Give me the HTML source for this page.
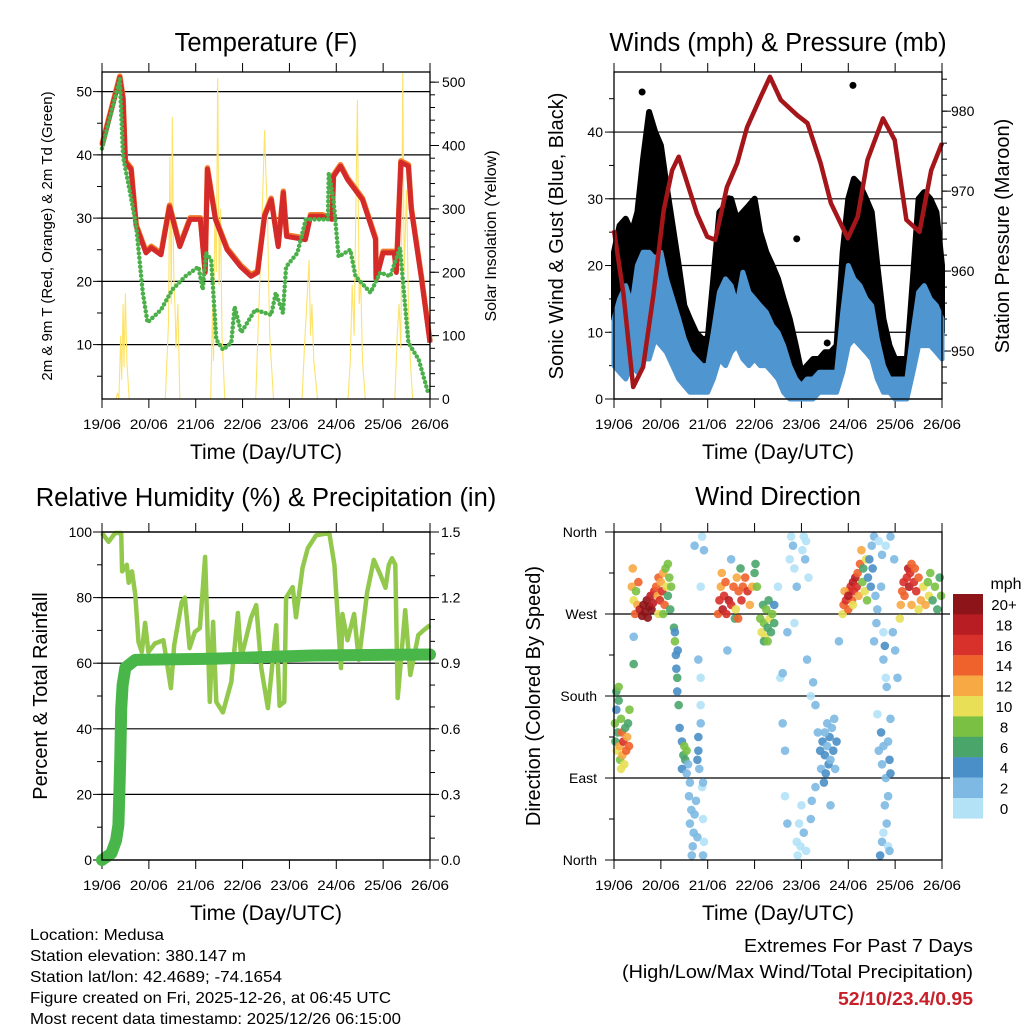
<!DOCTYPE html>
<html><head><meta charset="utf-8"><style>
body{margin:0;background:#fff}
svg{display:block;font-family:"Liberation Sans",sans-serif}
</style></head><body>
<svg id="chart" width="1024" height="1024" viewBox="0 0 1024 1024" xmlns="http://www.w3.org/2000/svg">
<rect width="1024" height="1024" fill="#fff"/>
</svg>
<script>
const dayLabels=["19/06","20/06","21/06","22/06","23/06","24/06","25/06","26/06"];
// Temperature (F)
const tempT=[0,0.38,0.45,0.5,0.62,0.73,0.94,1.05,1.26,1.44,1.66,1.88,2.1,2.2,2.25,2.42,2.67,2.96,3.18,3.32,3.47,3.61,3.76,3.87,3.94,4.34,4.45,4.7,4.91,4.94,5.09,5.24,5.56,5.84,5.85,6.0,6.24,6.28,6.38,6.54,6.6,6.82,7.0];
const tempV=[41.4,52.2,48.8,38.8,37.7,28.7,24.5,25.3,24.2,31.8,25.5,29.8,29.8,21.4,37.7,29.8,25,22.3,20.8,21.4,30.3,32.9,25.5,34,27.1,26.6,30.3,30.3,29.8,36.6,38.2,36.1,32.9,26.6,20.3,24.5,24.5,21.4,38.8,38.2,31.4,20.3,10.3];
const dewT=[0,0.38,0.45,0.6,0.73,0.87,0.97,1.26,1.5,1.78,2.06,2.15,2.22,2.33,2.44,2.58,2.76,2.83,2.97,3.27,3.61,3.71,3.86,3.93,4.17,4.35,4.82,4.84,4.94,5.05,5.3,5.41,5.73,5.94,6.15,6.36,6.54,6.76,6.96];
const dewV=[41,52,39.7,34,28.7,18.2,13.5,15.5,18.7,20.8,22.3,18.7,24.5,23.4,10.8,9.2,10.3,16,11.9,15.5,14.7,18.2,15,22.3,24.5,29.8,29.8,37.2,32.9,23.9,25,20.8,18.2,21.4,20.8,25.3,10.3,7.6,2.4];
const solarT=[0,0.3,0.33,0.36,0.4,0.42,0.45,0.47,0.5,0.53,0.58,1.35,1.42,1.45,1.48,1.5,1.53,1.56,1.58,1.62,1.66,2.32,2.36,2.38,2.41,2.44,2.47,2.5,2.53,2.56,2.62,3.28,3.35,3.42,3.47,3.5,3.53,3.58,3.66,4.27,4.32,4.37,4.42,4.45,4.48,4.52,4.6,5.25,5.3,5.34,5.38,5.45,5.49,5.52,5.56,5.62,6.25,6.3,6.34,6.38,6.42,6.45,6.5,6.54,6.58,6.63,7];
const solarV=[0,0,10,0,100,30,150,50,167,60,0,0,120,382,150,445,200,140,80,150,0,0,150,60,300,200,506,180,300,100,0,0,150,300,424,350,300,100,0,0,80,150,219,100,150,60,0,0,60,180,100,472,150,190,60,0,0,100,150,80,514,200,330,150,60,0,0];
// Winds (mph) & pressure (mb)
const windT=[0,0.12,0.25,0.38,0.5,0.62,0.75,0.88,1,1.12,1.25,1.38,1.5,1.62,1.75,1.88,2,2.12,2.25,2.38,2.5,2.62,2.75,2.88,3,3.12,3.25,3.38,3.5,3.62,3.75,3.88,4,4.12,4.25,4.38,4.5,4.62,4.75,4.88,5,5.12,5.25,5.38,5.5,5.62,5.75,5.88,6,6.12,6.25,6.38,6.5,6.62,6.75,6.88,7];
const sonicLow=[5,4,3,5,4,6,6,9,8,7,5,3,2,1,1,1,1,3,6,5,7,8,6,5,6,5,5,4,3,1,0,0,0,0,0,1,1,1,1,4,8,9,8,7,6,3,1,1,0,0,0,4,8,8,8,7,6];
const sonicHigh=[12,15,17,14,20,22,22,21,22,18,15,12,9,7,6,5,5,10,16,18,17,14,19,16,15,14,13,11,10,8,5,3,2,3,3,4,4,4,4,13,20,18,17,15,14,9,5,3,3,3,3,10,16,17,15,14,12];
const gustLow=[12,11,10,11,12,16,20,19,18,15,12,8,4,3,2,2,3,7,12,13,14,13,12,12,12,11,10,8,6,4,2,1,1,1,2,2,2,3,3,8,14,15,15,14,12,7,3,2,1,1,2,8,14,14,14,12,10];
const gustHigh=[22,26,27,25,28,36,43,40,38,32,26,20,14,12,10,9,9,18,28,29,30,27,28,29,30,25,22,20,18,15,12,8,4,5,6,6,7,7,8,22,30,33,32,30,28,20,12,8,6,6,6,18,30,31,30,28,20];
const gustOutT=[0.6,0.95,3.35,3.9,4.55,5.1,0.75,2.45];
const gustOutV=[46,37,16,24,8.4,47,41,30];
const presT=[0,0.2,0.41,0.62,0.84,1.06,1.24,1.38,1.52,1.77,1.99,2.16,2.41,2.63,2.84,3.13,3.33,3.56,3.91,4.13,4.41,4.63,4.99,5.2,5.41,5.74,5.99,6.24,6.52,6.77,7];
const presV=[965.1,957.2,945.5,948,957,967.6,972.6,974.3,971.8,967.2,964.3,963.9,970.5,973.5,978,981.8,984.3,981.4,979.5,978.5,973.5,968.5,964.1,966.8,973.9,979.1,976.4,966.4,964.9,972.6,976];
// Relative humidity & precipitation
const rhT=[0,0.14,0.28,0.41,0.43,0.53,0.57,0.64,0.71,0.78,0.85,0.92,0.99,1.13,1.31,1.47,1.54,1.7,1.77,1.87,1.98,2.09,2.2,2.3,2.37,2.44,2.58,2.76,2.9,2.97,3.18,3.29,3.4,3.54,3.72,3.79,3.89,3.93,4.07,4.14,4.28,4.39,4.57,4.85,4.96,5.1,5.13,5.24,5.38,5.48,5.66,5.8,5.94,6.05,6.12,6.19,6.26,6.31,6.47,6.58,6.75,6.86,7];
const rhV=[99.7,97,99.7,99.7,88,90,84.5,88,80.8,66.5,63.4,72.3,63.4,66,67,52.4,65.5,78.6,80,64.6,69.5,70.7,92.4,48.2,72.6,48.2,45,54.3,75.3,61.6,73.8,77.7,58.5,46.3,71.6,47,48.2,80,83.2,74,89,95,99,99.7,90,58.5,75,67,75,61,81.7,91.5,87,83,90,92,90,49.4,76.2,56.4,68.6,70,71.6];
const rainT=[0,0.2,0.3,0.35,0.37,0.39,0.41,0.44,0.5,0.71,2.35,4.5,7];
const rainV=[0,0.03,0.09,0.16,0.3,0.47,0.69,0.8,0.88,0.915,0.92,0.935,0.94];
// Wind direction points: [day, degrees, mph]
const dirPts=[[0.02,150,8],[0.03,130,6],[0.05,165,4],[0.06,120,10],[0.08,140,7],[0.1,175,6],[0.12,125,12],[0.13,110,9],[0.15,155,8],[0.17,140,14],[0.18,115,12],[0.2,130,16],[0.22,105,10],[0.24,145,7],[0.26,120,14],[0.28,135,12],[0.3,150,6],[0.32,125,15],[0.05,185,6],[0.1,190,8],[0.33,165,8],[0.15,100,11],[0.42,245,2],[0.42,215,6],
[0.38,300,12],[0.4,320,12],[0.42,285,10],[0.45,270,14],[0.47,295,8],[0.5,280,12],[0.52,305,14],[0.55,275,18],[0.6,268,20],[0.63,280,20],[0.66,272,22],[0.7,285,20],[0.72,266,20],[0.75,278,22],[0.78,290,18],[0.8,275,20],[0.83,282,18],[0.86,295,16],[0.9,300,14],[0.93,290,12],[0.95,310,14],[0.98,285,16],[1.0,305,12],[1.03,295,16],[1.05,315,12],[1.08,280,14],[1.1,320,8],[1.12,300,10],[1.15,290,6],[1.15,325,8],[1.18,310,8],[1.2,275,6],[1.22,300,8],[0.95,270,10],[1.05,270,8],
[1.28,255,6],[1.3,240,8],[1.32,225,4],[1.33,210,4],[1.35,200,6],[1.35,185,4],[1.38,170,6],[1.4,145,4],[1.3,250,4],[1.36,230,4],
[1.45,130,4],[1.48,115,6],[1.5,125,8],[1.52,110,6],[1.55,120,8],[1.58,105,2],[1.45,100,4],[1.55,95,2],[1.62,85,2],[1.6,70,2],[1.65,55,2],[1.62,40,2],[1.7,30,2],[1.68,15,2],[1.72,50,2],[1.75,65,2],[1.78,25,2],[1.66,5,2],[1.8,120,4],[1.8,135,4],[1.85,150,2],[1.85,170,0],[1.78,110,4],[1.82,100,2],[1.88,80,0],[1.9,45,0],[1.92,20,0],[1.9,5,2],[1.72,345,2],[1.88,355,0],[1.92,340,2],[1.85,300,0],[1.8,220,2],[1.85,200,0],[1.9,85,2],
[2.22,270,14],[2.25,285,16],[2.28,300,12],[2.3,315,12],[2.32,275,18],[2.35,290,16],[2.38,305,14],[2.4,270,16],[2.45,285,18],[2.5,280,16],[2.55,300,14],[2.6,275,10],[2.62,310,12],[2.66,295,14],[2.7,320,6],[2.72,285,16],[2.75,300,14],[2.8,310,14],[2.85,295,16],[2.9,280,12],[2.95,300,12],[3.0,315,6],[3.02,325,6],[3.05,300,8],[2.5,330,2],[2.58,265,6],[2.42,230,2],[2.65,265,14],
[3.12,265,8],[3.15,250,10],[3.18,280,6],[3.2,260,8],[3.22,245,10],[3.25,275,8],[3.28,255,6],[3.3,285,6],[3.32,265,10],[3.35,250,6],[3.38,270,8],[3.42,280,4],[3.42,260,6],[3.2,240,6],[3.28,240,8],
[3.5,300,0],[3.55,200,0],[3.6,150,2],[3.65,120,2],[3.65,70,0],[3.7,40,2],[3.7,250,2],[3.75,330,0],[3.78,355,0],[3.82,345,2],[3.85,320,0],[3.9,300,2],[3.85,260,0],[3.9,20,0],[3.92,5,0],[3.95,40,0],[3.98,15,0],[4.0,60,0],[4.02,340,0],[4.05,355,0],[4.08,330,2],[4.1,350,0],[4.05,30,2],[4.1,10,0],[4.12,220,2],[4.15,310,0],[4.2,180,0],[4.25,195,2],[4.2,45,2],[4.22,65,2],[4.3,80,2],[3.6,205,2],
[4.35,140,2],[4.4,120,4],[4.42,100,2],[4.45,130,4],[4.5,115,4],[4.52,95,4],[4.55,125,2],[4.58,105,4],[4.6,135,4],[4.62,110,2],[4.65,145,2],[4.68,120,4],[4.7,155,2],[4.72,100,2],[4.75,130,4],[4.5,140,2],[4.48,85,4],[4.55,150,2],[4.3,170,2],[4.62,60,2],[4.8,240,2],
[4.88,270,10],[4.9,280,14],[4.95,285,16],[5.0,275,14],[5.02,295,16],[5.05,300,16],[5.08,285,14],[5.1,305,18],[5.12,295,16],[5.15,310,18],[5.18,300,16],[5.2,315,14],[5.22,290,12],[5.25,325,14],[5.28,340,12],[5.3,305,8],[5.32,320,6],[5.35,295,10],[5.38,330,10],[5.4,285,8],[4.92,295,12],[5.0,290,18],[5.1,280,10],
[5.42,310,4],[5.45,330,4],[5.48,300,4],[5.5,345,2],[5.52,320,4],[5.55,355,2],[5.58,290,2],[5.6,260,2],[5.62,275,2],[5.55,240,2],[5.65,350,0],[5.7,300,2],[5.75,250,0],[5.78,235,4],[5.75,220,2],[5.8,200,0],[5.82,190,2],[5.72,335,2],[5.8,345,0],[5.9,355,2],
[5.62,160,0],[5.65,120,2],[5.7,140,4],[5.72,105,2],[5.75,125,2],[5.8,90,2],[5.78,60,2],[5.82,40,2],[5.85,70,2],[5.88,110,4],[5.85,130,2],[5.9,155,2],[5.75,30,0],[5.72,20,2],[5.85,15,0],[5.68,5,4],[5.9,95,4],[5.88,10,2],[5.95,250,2],[6.0,230,2],[6.05,200,2],[5.98,330,2],
[6.1,265,10],[6.12,280,12],[6.15,295,14],[6.18,305,16],[6.2,290,14],[6.25,310,16],[6.28,320,18],[6.3,300,18],[6.32,315,16],[6.35,325,14],[6.4,305,16],[6.42,320,14],[6.45,295,16],[6.5,310,14],[6.55,285,12],[6.6,300,10],[6.65,280,12],[6.7,305,8],[6.72,290,10],[6.75,315,8],[6.8,285,6],[6.85,300,8],[6.9,275,6],[6.95,310,6],[6.98,290,8],[6.35,280,12],[6.5,275,10]];
const speedColors=["#b3e2f7","#7db9e2","#4a8fc7","#4aa56b","#7ac143","#e8df56","#f7a943","#f0622b","#d8302a","#b81d24","#8d1418"];
const speedLabels=["0","2","4","6","8","10","12","14","16","18","20+"];

const svg=document.getElementById('chart');
const NS="http://www.w3.org/2000/svg";
function mk(parent,tag,attrs,text){const e=document.createElementNS(NS,tag);for(const k in attrs)e.setAttribute(k,attrs[k]);if(text!==undefined)e.textContent=text;parent.appendChild(e);return e;}
function lin(d0,d1,r0,r1){return v=>r0+(v-d0)/(d1-d0)*(r1-r0);}
function path(xs,ys,fx,fy){return xs.map((t,i)=>(i?'L':'M')+fx(t).toFixed(1)+','+fy(ys[i]).toFixed(1)).join('');}

const P=[{x0:102,x1:430,y0:72,y1:399},{x0:614,x1:942,y0:72,y1:399},{x0:102,x1:430,y0:532,y1:860},{x0:614,x1:942,y0:532,y1:860}];

function frame(p,name){
  const g=mk(svg,'g',{});
  
  
  const fx=lin(0,7,p.x0,p.x1);
  for(let i=0;i<=7;i++){
    const x=fx(i);
    const t1=mk(g,'line',{x1:x,x2:x,y1:p.y0-9,y2:p.y0,stroke:'#000','stroke-width':1});
    
    
    const t2=mk(g,'line',{x1:x,x2:x,y1:p.y1,y2:p.y1+9,stroke:'#000','stroke-width':1});
    
    
    const tl=mk(g,'text',{x:x,y:p.y1+30,'text-anchor':'middle','font-size':14,textLength:38,lengthAdjust:'spacingAndGlyphs'},dayLabels[i]);
    
    
  }
  const at=mk(svg,'text',{x:(p.x0+p.x1)/2,y:p.y1+60,'text-anchor':'middle','font-size':21},'Time (Day/UTC)');
  
  
  return {g,fx};
}
function yAxis(g,p,side,fy,majors,labels,minors,labelX,grid){
  const x=side==='L'?p.x0:p.x1, dir=side==='L'?-1:1;
  minors.forEach(v=>{const t=mk(g,'line',{x1:x,x2:x+dir*5,y1:fy(v),y2:fy(v),stroke:'#000','stroke-width':1});
    
    });
  majors.forEach((v,i)=>{
    const y=fy(v);
    if(grid){const gl=mk(g,'line',{x1:p.x0,x2:p.x1,y1:y,y2:y,stroke:'#000','stroke-width':1.2});
      
      }
    const t=mk(g,'line',{x1:x,x2:x+dir*9,y1:y,y2:y,stroke:'#000','stroke-width':1});
    
    
    const l=mk(g,'text',{x:labelX,y:y+5,'text-anchor':side==='L'?'end':'start','font-size':14},labels[i]);
    
    
  });
}
function box(p,name){const r=mk(svg,'rect',{x:p.x0,y:p.y0,width:p.x1-p.x0,height:p.y1-p.y0,fill:'none',stroke:'#000','stroke-width':1.3});
  
  }
function title(x,y,txt,name){const t=mk(svg,'text',{x:x,y:y,'text-anchor':'middle','font-size':25.5},txt);
  
  }
function vtitle(x,y,txt,size,name){const t=mk(svg,'text',{x:0,y:0,'text-anchor':'middle','font-size':size,transform:`translate(${x},${y}) rotate(-90)`},txt);
  
  }
function range(a,b,s){const r=[];for(let v=a;v<=b+1e-9;v+=s)r.push(+v.toFixed(4));return r;}

// ---- Panel 1: Temperature
{
  const p=P[0];const {g,fx}=frame(p,'temperature');
  const fy=lin(1.4,53.1,p.y1,p.y0), fs=lin(0,516,p.y1,p.y0);
  yAxis(g,p,'L',fy,[10,20,30,40,50],['10','20','30','40','50'],range(5,50,5),92,true);
  yAxis(g,p,'R',fs,[0,100,200,300,400,500],['0','100','200','300','400','500'],range(0,500,20),442,false);
  const s=mk(svg,'path',{d:path(solarT,solarV,fx,fs),fill:'none',stroke:'#fde36a','stroke-width':1.1});
  
  
  const o=mk(svg,'path',{d:path(tempT,tempV,fx,v=>fy(v)-1.5),fill:'none',stroke:'#f07c2a','stroke-width':5.5,'stroke-linejoin':'round'});
  
  
  const r=mk(svg,'path',{d:path(tempT,tempV,fx,fy),fill:'none',stroke:'#d42a2a','stroke-width':5,'stroke-linejoin':'round'});
  
  
  const d=mk(svg,'path',{d:path(dewT,dewV,fx,fy),fill:'none',stroke:'#4bb04a','stroke-width':4.5,'stroke-linecap':'round','stroke-dasharray':'0 4.5'});
  
  
  box(p,'temperature');
  title(266,51,'Temperature (F)','temperature-title');
  vtitle(52,236,'2m & 9m T (Red, Orange) & 2m Td (Green)',15,'temperature-y-axis-title');
  vtitle(496,236,'Solar Insolation (Yellow)',16,'solar-y-axis-title');
}
// ---- Panel 2: Winds
{
  const p=P[1];const {g,fx}=frame(p,'winds');
  const fy=lin(0,49,p.y1,p.y0), fp=lin(944,984.9,p.y1,p.y0);
  yAxis(g,p,'L',fy,[0,10,20,30,40],['0','10','20','30','40'],range(0,45,5),603,true);
  yAxis(g,p,'R',fp,[950,960,970,980],['950','960','970','980'],range(946,984,2),951,false);
  const gp=mk(svg,'path',{d:path(windT,gustHigh,fx,fy)+path(windT.slice().reverse(),gustLow.slice().reverse(),fx,fy).replace('M','L')+'Z',fill:'#000',stroke:'#000','stroke-width':6,'stroke-linejoin':'round'});
  
  
  gustOutT.forEach((t,i)=>{const c=mk(svg,'circle',{cx:fx(t),cy:fy(gustOutV[i]),r:3.5,fill:'#000'});
    
    });
  const bp=mk(svg,'path',{d:path(windT,sonicHigh,fx,fy)+path(windT.slice().reverse(),sonicLow.slice().reverse(),fx,fy).replace('M','L')+'Z',fill:'#4f95d0',stroke:'#4f95d0','stroke-width':5,'stroke-linejoin':'round'});
  
  
  const pr=mk(svg,'path',{d:path(presT,presV,fx,fp),fill:'none',stroke:'#a5161b','stroke-width':4.5,'stroke-linejoin':'round'});
  
  
  box(p,'winds');
  title(778,51,'Winds (mph) & Pressure (mb)','winds-title');
  vtitle(563,236,'Sonic Wind & Gust (Blue, Black)',20,'wind-y-axis-title');
  vtitle(1009,236,'Station Pressure (Maroon)',20,'pressure-y-axis-title');
}
// ---- Panel 3: RH & precip
{
  const p=P[2];const {g,fx}=frame(p,'humidity');
  const fy=lin(0,100,p.y1,p.y0), fr=lin(0,1.5,p.y1,p.y0);
  yAxis(g,p,'L',fy,[0,20,40,60,80,100],['0','20','40','60','80','100'],range(0,100,10),92,true);
  yAxis(g,p,'R',fr,[0,0.3,0.6,0.9,1.2,1.5],['0.0','0.3','0.6','0.9','1.2','1.5'],range(0,1.5,0.1),441,false);
  const rh=mk(svg,'path',{d:path(rhT,rhV,fx,fy),fill:'none',stroke:'#92c94c','stroke-width':4.5,'stroke-linejoin':'round'});
  
  
  const rn=mk(svg,'path',{d:path(rainT,rainV,fx,fr),fill:'none',stroke:'#49b649','stroke-width':12,'stroke-linecap':'round','stroke-linejoin':'round'});
  
  
  box(p,'humidity');
  title(266,506,'Relative Humidity (%) & Precipitation (in)','humidity-title');
  vtitle(47,696,'Percent & Total Rainfall',20,'humidity-y-axis-title');
}
// ---- Panel 4: Wind direction
{
  const p=P[3];const {g,fx}=frame(p,'direction');
  const fy=lin(0,360,p.y1,p.y0);
  yAxis(g,p,'L',fy,[0,90,180,270,360],['North','East','South','West','North'],range(0,360,45),597,false);
  [90,180,270].forEach(v=>{const gl=mk(g,'line',{x1:p.x0,x2:950,y1:fy(v),y2:fy(v),stroke:'#000','stroke-width':1.2});
    
    });
  dirPts.forEach(d=>{const bin=Math.min(10,Math.floor(d[2]/2));
    const c=mk(svg,'circle',{cx:fx(d[0]),cy:fy(d[1]),r:4.3,fill:speedColors[bin],'fill-opacity':0.9});
    
    });
  box(p,'direction');
  title(778,505,'Wind Direction','direction-title');
  vtitle(540,696,'Direction (Colored By Speed)',20,'direction-y-axis-title');
  const lg=mk(svg,'g',{});
  
  
  const mt=mk(lg,'text',{x:1006,y:589,'text-anchor':'middle','font-size':16},'mph');
  
  
  for(let i=0;i<11;i++){const bin=10-i, y=594+i*20.4;
    const r=mk(lg,'rect',{x:953,y:y,width:30,height:20.6,fill:speedColors[bin]});
    
    
    const t=mk(lg,'text',{x:1004,y:y+16,'text-anchor':'middle','font-size':15},speedLabels[bin]);
    
    }
}
// ---- Footer text
const info=["Location: Medusa","Station elevation: 380.147 m","Station lat/lon: 42.4689; -74.1654","Figure created on Fri, 2025-12-26, at 06:45 UTC","Most recent data timestamp: 2025/12/26 06:15:00"];
const infoW=[134,216,252,361,371];
info.forEach((s,i)=>{const t=mk(svg,'text',{x:30,y:940+i*21,'font-size':16,textLength:infoW[i],lengthAdjust:'spacingAndGlyphs'},s);
  
  });
const e1=mk(svg,'text',{x:973,y:952,'text-anchor':'end','font-size':18.5,textLength:229,lengthAdjust:'spacingAndGlyphs'},'Extremes For Past 7 Days');


const e2=mk(svg,'text',{x:973,y:978,'text-anchor':'end','font-size':18.5,textLength:351,lengthAdjust:'spacingAndGlyphs'},'(High/Low/Max Wind/Total Precipitation)');


const e3=mk(svg,'text',{x:973,y:1005,'text-anchor':'end','font-size':18.5,'font-weight':'bold',fill:'#c8202a',textLength:135,lengthAdjust:'spacingAndGlyphs'},'52/10/23.4/0.95');


</script>
</body></html>
